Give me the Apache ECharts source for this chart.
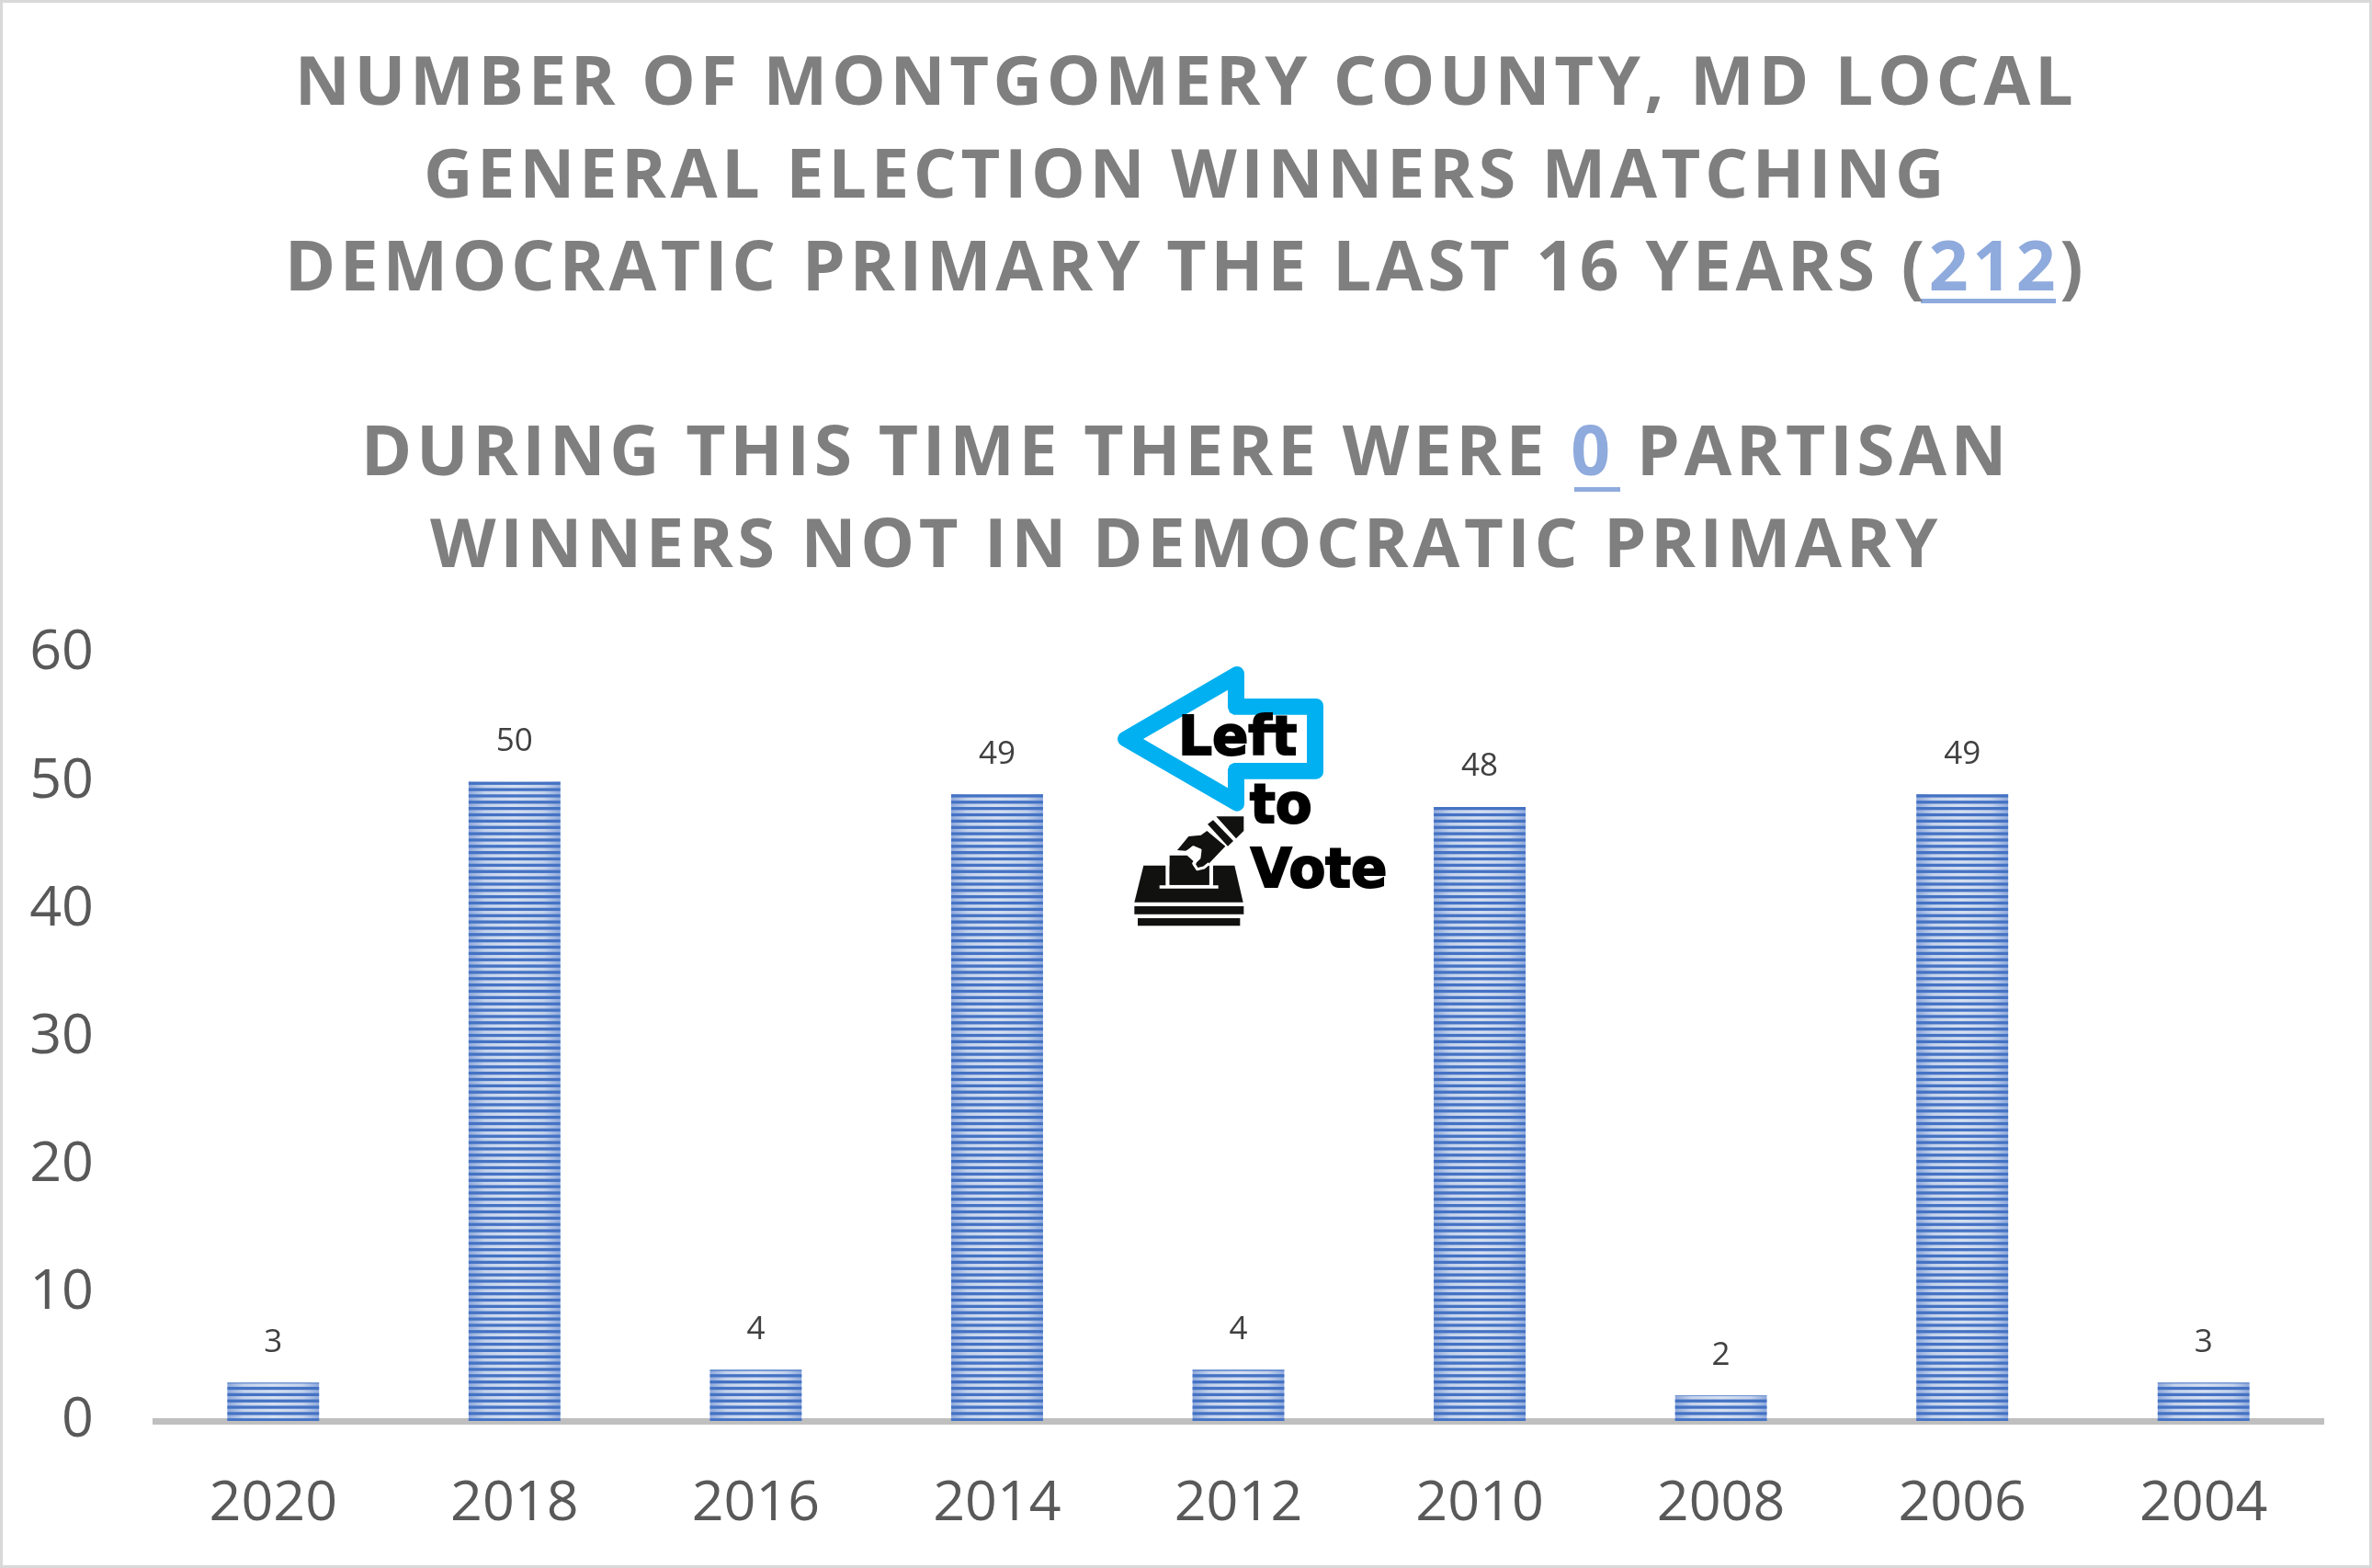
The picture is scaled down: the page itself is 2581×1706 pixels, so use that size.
<!DOCTYPE html>
<html><head><meta charset="utf-8">
<style>html,body{margin:0;padding:0;background:#fff}#c{width:2581px;height:1706px}</style>
<script src="https://cdn.jsdelivr.net/npm/echarts@6/dist/echarts.min.js"></script>
</head><body><div id="c"></div>
<script>
var categories = ['2020','2018','2016','2014','2012','2010','2008','2006','2004'];
var winners = [3,50,4,49,4,48,2,49,3];
var yTicks = {min:0,max:60,interval:10};
var titleLines = [
 'NUMBER OF MONTGOMERY COUNTY, MD LOCAL',
 'GENERAL ELECTION WINNERS MATCHING',
 '{w|DEMOCRATIC PRIMARY THE LAST 16 YEARS (}{b|212}{w|)}',
 '',
 '{w|DURING THIS TIME THERE WERE }{b|0}{w| PARTISAN}',
 'WINNERS NOT IN DEMOCRATIC PRIMARY'
];

// Title letter spacing: the canvas API supports it, zrender does not expose it.
var TITLE_SPACING = '4.6px';
(function(){
  var P = CanvasRenderingContext2D.prototype;
  function spacing(ctx){ ctx.letterSpacing = /(bold|700) 7\dpx/.test(ctx.font) ? TITLE_SPACING : '0px'; }
  ['fillText','strokeText','measureText'].forEach(function(n){
    var o = P[n];
    P[n] = function(){ spacing(this); return o.apply(this, arguments); };
  });
})();

// Striped bar fill: dark bands with pale bands that fade to blue at each bar's sides.
function stripes(){
  var period = 48/7, W = 2581, H = 48;
  var cv = document.createElement('canvas'); cv.width = W; cv.height = H;
  var g = cv.getContext('2d');
  var band = (2529-166)/9;
  g.fillStyle = '#C9D6EC'; g.fillRect(0,0,W,H);
  for (var i=0;i<9;i++){
    var c = 166+band*(i+.5), l=c-50, r=c+50;
    var grad = g.createLinearGradient(l,0,r,0);
    grad.addColorStop(0,'#8FA9DB'); grad.addColorStop(.18,'#C4D2EB');
    grad.addColorStop(.5,'#D6E0F1'); grad.addColorStop(.82,'#C4D2EB'); grad.addColorStop(1,'#8FA9DB');
    g.fillStyle = grad; g.fillRect(l,0,100,H);
  }
  g.fillStyle = '#4472C4';
  for (var k=0;k<7;k++){ g.fillRect(0,k*period+.3,W,3.3); }
  return cv;
}

var L = function(x,y){ return [1150+x/3, 680+y/3]; };
var pts = function(a){ return a.map(function(p){ return L(p[0],p[1]); }); };
var INK = '#111110', CYAN = '#00B0F0';
function poly(a,fill,z){ return {type:'polygon',z:z||20,silent:true,shape:{points:pts(a)},style:{fill:fill||INK}}; }
function word(t,x,y){
  var p = L(x,y);
  return {type:'text',z:22,silent:true,x:p[0],y:p[1],style:{text:t,fill:'#000',stroke:'#000',lineWidth:2,
    font:'bold 58px "DejaVu Sans"',textAlign:'left',textVerticalAlign:'middle'}};
}

var graphics = [
  {type:'rect',z:1,silent:true,shape:{x:1.5,y:1.5,width:2578,height:1703},style:{fill:'none',stroke:'#D9D9D9',lineWidth:3}},
  {type:'rect',z:5,silent:true,shape:{x:2090,y:325,width:147,height:5},style:{fill:'#8FAADC'}},
  {type:'rect',z:5,silent:true,shape:{x:1713,y:530,width:50,height:5},style:{fill:'#8FAADC'}},
  {type:'polygon',z:20,silent:true,shape:{points:pts([[222,372],[588,159],[588,264],[846,264],[846,479],[588,479],[588,584]])},
    style:{fill:CYAN,stroke:CYAN,lineWidth:16,lineJoin:'round'}},
  poly([[282,372],[558,212],[558,270],[564,286],[578,293],[816,293],[816,450],[578,450],[564,457],[558,472],[558,532]],'#fff',21),
  word('Left',396,378), word('to',630,600), word('Vote',632,810),
  poly([[283,785],[580,785],[608,905],[253,905]]),
  poly([[355,775],[368,775],[368,848],[497,848],[497,775],[510,775],[510,850],[527,850],[527,860],[335,860],[335,850],[355,850]],'#fff',21),
  poly([[368,752],[425,752],[445,770],[445,790],[470,805],[497,785],[497,848],[368,848]],INK,22),
  poly([[393,735],[430,690],[470,686],[490,672],[550,722],[490,785],[470,800],[450,790],[462,760],[470,735],[445,722],[420,738]],INK,22),
  {type:'polyline',z:23,silent:true,shape:{points:pts([[393,742],[425,742],[445,725],[468,735],[465,760],[446,778],[458,797],[480,792],[497,778]])},
    style:{fill:'none',stroke:'#fff',lineWidth:3,lineJoin:'round'}},
  poly([[492,650],[510,637],[576,705],[558,722]],INK,22),
  poly([[520,625],[610,625],[610,672],[585,697]],INK,22),
  poly([[253,918],[610,918],[610,944],[253,944]]),
  poly([[264,957],[598,957],[598,982],[264,982]])
];

var chart = echarts.init(document.getElementById('c'));
chart.setOption({
  animation:false,
  backgroundColor:'#fff',
  title:{
    text:titleLines.join('\n'),
    left:'center', top:38,
    textStyle:{color:'#7F7F7F',fontFamily:'Open Sans',fontWeight:'bold',fontSize:74,lineHeight:100.5,
      rich:{
        w:{color:'#7F7F7F',fontFamily:'Open Sans',fontWeight:'bold',fontSize:75,lineHeight:100.5},
        b:{color:'#8FAADC',fontFamily:'Open Sans',fontWeight:'bold',fontSize:75,lineHeight:100.5}
      }}
  },
  grid:{left:166,right:52,top:711,bottom:160,containLabel:false},
  xAxis:{type:'category',data:categories,
    axisLine:{show:true,lineStyle:{color:'#BFBFBF',width:7,cap:'butt'}},
    axisTick:{show:false},
    axisLabel:{color:'#595959',fontFamily:'Open Sans',fontSize:61,margin:60}},
  yAxis:{type:'value',min:yTicks.min,max:yTicks.max,interval:yTicks.interval,
    axisLine:{show:false},axisTick:{show:false},splitLine:{show:false},
    axisLabel:{color:'#595959',fontFamily:'Open Sans',fontSize:61,margin:64}},
  series:[{type:'bar',data:winners,barWidth:100,
    itemStyle:{color:{image:stripes(),repeat:'repeat'}},
    label:{show:true,position:'top',distance:26,color:'#404040',fontFamily:'Open Sans',fontSize:35}}],
  graphic:{elements:graphics}
});
</script></body></html>
